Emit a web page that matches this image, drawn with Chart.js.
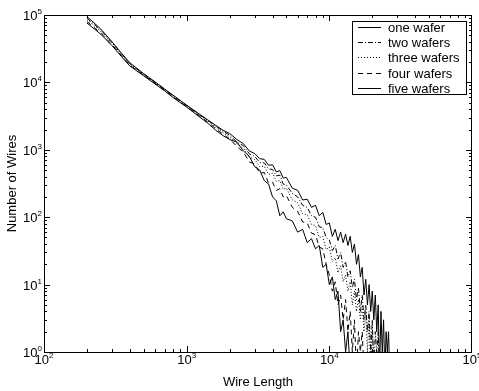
<!DOCTYPE html>
<html>
<head>
<meta charset="utf-8">
<script src="https://cdn.jsdelivr.net/npm/chart.js@4.4.1/dist/chart.umd.min.js"></script>
<style>
  body { margin: 0; background: #fff; }
  canvas { display: block; }
</style>
</head>
<body>
<canvas id="wireChart" width="479" height="391"></canvas>
<script>
var wireLength = [200, 250, 300, 350, 400, 500, 600, 700, 800, 1000, 1200, 1400, 1600, 1800, 2000,
    2250, 2500, 2750, 3000, 3250, 3500, 3750, 4000, 4250, 4500, 4750, 5000,
    5500, 6000, 6500, 7000, 7500, 8000, 8500, 9000, 9500, 10000,
    10500, 11000, 11500, 12000, 12500, 13000, 13500, 14000, 14500, 15000,
    15500, 16000, 16500, 17000, 17500, 18000, 18500, 19000, 19500, 20000,
    20500, 21000, 21500, 22000, 22500, 23000, 23500, 24000, 24500, 25000,
    25500, 26000, 26500, 27000];

var oneWafer = [95000, 62000, 40000, 27000, 19500, 13500, 10200, 8000, 6500, 4600, 3500, 2800, 2300, 1950, 1750,
    1420, 1230, 960, 880, 740, 720, 590, 600, 470, 490, 380, 390,
    270, 250, 180, 185, 140, 150, 105, 118, 78, 82,
    52, 66, 45, 60, 42, 56, 38, 52, 30, 40,
    20, 28, 13, 18, 7, 12, 5, 10, 4, 8,
    3, 7, 2, 5, 0.5, 4, 1, 3, 0.5, 2,
    1, 2, 0.5, null];
var twoWafers = [90000, 60000, 39000, 26500, 19000, 13200, 10000, 7900, 6400, 4550, 3450, 2750, 2250, 1880, 1650,
    1300, 1150, 870, 800, 650, 640, 520, 510, 410, 420, 310, 300,
    225, 200, 150, 140, 105, 100, 72, 70, 50, 46,
    32, 38, 24, 30, 18, 22, 13, 16, 9, 12,
    6, 9, 4, 7, 3, 5, 2, 4, 1, 3,
    0.5, 2, 1, 2, 0.5, 1, 0.5, 1, 0.5, null,
    null, null, null, null];
var threeWafers = [85000, 57000, 38000, 26000, 18500, 13000, 9900, 7800, 6300, 4500, 3400, 2700, 2150, 1800, 1550,
    1220, 1050, 780, 720, 560, 570, 430, 450, 340, 350, 260, 270,
    180, 165, 112, 108, 78, 75, 50, 52, 33, 36,
    22, 25, 15, 19, 11, 14, 8, 11, 5, 8,
    4, 6, 3, 5, 2, 4, 1, 3, 0.5, 2,
    1, 0.5, 1, 0.5, null, null, null, null, null, null,
    null, null, null, null];
var fourWafers = [80000, 54000, 36000, 25000, 18000, 12800, 9700, 7600, 6100, 4400, 3300, 2600, 2050, 1700, 1450,
    1120, 920, 660, 620, 450, 460, 320, 330, 250, 265, 200, 210,
    140, 122, 85, 82, 58, 55, 36, 34, 20, 14,
    8, 11, 5, 7, 3, 6, 2, 4, 1, 3,
    0.5, 2, 1, 2, 0.5, 1, 0.5, 1, 0.5, null,
    null, null, null, null, null, null, null, null, null, null,
    null, null, null, null];
var fiveWafers = [76000, 52000, 35000, 24000, 17500, 12500, 9500, 7500, 6000, 4300, 3200, 2500, 1950, 1620, 1420,
    1300, 960, 800, 560, 500, 350, 310, 200, 175, 105, 120, 95,
    88, 60, 66, 42, 48, 34, 38, 18, 20, 10,
    13, 6, 8, 2, 3, 1, 2, 0.5, null, null,
    null, null, null, null, null, null, null, null, null, null,
    null, null, null, null, null, null, null, null, null, null,
    null, null, null, null];

var seriesNames = ["one wafer", "two wafers", "three wafers", "four wafers", "five wafers"];
var xDecades = [2, 3, 4, 5];
var yDecades = [0, 1, 2, 3, 4, 5];

var FONT = '"Liberation Sans", Arial, Helvetica, sans-serif';

function points(ys) {
    var out = [];
    for (var i = 0; i < wireLength.length; i++) {
        if (ys[i] !== null) out.push({ x: wireLength[i], y: ys[i] });
    }
    return out;
}

function powLabel(ctx, exp, x, y, align) {
    ctx.font = "13px " + FONT;
    var w1 = ctx.measureText("10").width;
    ctx.font = "8px " + FONT;
    var w2 = ctx.measureText(String(exp)).width;
    var start = align === "center" ? x - (w1 + w2) / 2 : x - (w1 + w2);
    ctx.font = "13px " + FONT;
    ctx.fillText("10", start, y);
    ctx.font = "8px " + FONT;
    ctx.fillText(String(exp), start + w1, y - 6);
}

var frame = {
    id: "frame",
    afterDatasetsDraw: function(chart) {
        var ctx = chart.ctx;
        var a = chart.chartArea;
        var xs = chart.scales.x, ys = chart.scales.y;
        ctx.save();
        ctx.strokeStyle = "#000";
        ctx.fillStyle = "#000";
        ctx.lineWidth = 1;
        ctx.setLineDash([]);
        ctx.strokeRect(a.left + 0.5, a.top + 0.5, a.right - a.left - 1, a.bottom - a.top);

        // inward ticks on all four sides
        ctx.beginPath();
        var d, m, p, len;
        for (d = 2; d < 5; d++) {
            for (m = 1; m <= 9; m++) {
                p = Math.round(xs.getPixelForValue(m * Math.pow(10, d))) + 0.5;
                len = m === 1 ? 6 : 3;
                ctx.moveTo(p, a.bottom); ctx.lineTo(p, a.bottom - len);
                ctx.moveTo(p, a.top); ctx.lineTo(p, a.top + len);
            }
        }
        for (d = 0; d < 5; d++) {
            for (m = 1; m <= 9; m++) {
                p = Math.round(ys.getPixelForValue(m * Math.pow(10, d))) + 0.5;
                len = m === 1 ? 6 : 3;
                ctx.moveTo(a.left, p); ctx.lineTo(a.left + len, p);
                ctx.moveTo(a.right, p); ctx.lineTo(a.right - len, p);
            }
        }
        ctx.stroke();

        // tick labels
        ctx.textBaseline = "alphabetic";
        ctx.textAlign = "left";
        xDecades.forEach(function(e) {
            powLabel(ctx, e, xs.getPixelForValue(Math.pow(10, e)), 364, "center");
        });
        yDecades.forEach(function(e) {
            powLabel(ctx, e, 42, ys.getPixelForValue(Math.pow(10, e)) + 5, "right");
        });

        // axis titles
        ctx.font = "13px " + FONT;
        ctx.textAlign = "center";
        ctx.fillText("Wire Length", (a.left + a.right) / 2, 386);
        ctx.save();
        ctx.translate(16, (a.top + a.bottom) / 2);
        ctx.rotate(-Math.PI / 2);
        ctx.fillText("Number of Wires", 0, 0);
        ctx.restore();

        // legend box
        ctx.fillStyle = "#fff";
        ctx.fillRect(352, 21, 115, 73);
        ctx.strokeRect(352.5, 21.5, 114, 73);
        ctx.fillStyle = "#000";
        ctx.textAlign = "left";
        ctx.textBaseline = "middle";
        chart.data.datasets.forEach(function(ds, i) {
            var y = Math.round(27 + 15.2 * i) + 0.5;
            ctx.setLineDash(ds.borderDash || []);
            ctx.beginPath();
            ctx.moveTo(358, y);
            ctx.lineTo(381, y);
            ctx.stroke();
            ctx.setLineDash([]);
            ctx.fillText(ds.label, 388, y + 0.5);
        });
        ctx.restore();
    }
};

document.addEventListener("DOMContentLoaded", function() {
    var ctx = document.getElementById("wireChart").getContext("2d");
    var dashes = [[], [5, 2, 1, 2], [1, 2], [5, 4], []];
    var values = [oneWafer, twoWafers, threeWafers, fourWafers, fiveWafers];
    var datasets = values.map(function(v, i) {
        return {
            label: seriesNames[i],
            data: points(v),
            borderColor: "#000",
            borderWidth: 1,
            borderDash: dashes[i],
            pointRadius: 0,
            fill: false,
            tension: 0
        };
    });

    new Chart(ctx, {
        type: "line",
        data: { datasets: datasets },
        options: {
            responsive: false,
            animation: false,
            layout: { padding: { left: 0, right: 7, top: 15, bottom: 0 } },
            plugins: { legend: { display: false }, tooltip: { enabled: false } },
            scales: {
                x: {
                    type: "logarithmic",
                    min: 100,
                    max: 100000,
                    grid: { display: false },
                    border: { display: false },
                    ticks: { display: false },
                    afterFit: function(s) { s.height = 39; }
                },
                y: {
                    type: "logarithmic",
                    min: 1,
                    max: 100000,
                    grid: { display: false },
                    border: { display: false },
                    ticks: { display: false },
                    afterFit: function(s) { s.width = 44; }
                }
            }
        },
        plugins: [frame]
    });
});
</script>
</body>
</html>
